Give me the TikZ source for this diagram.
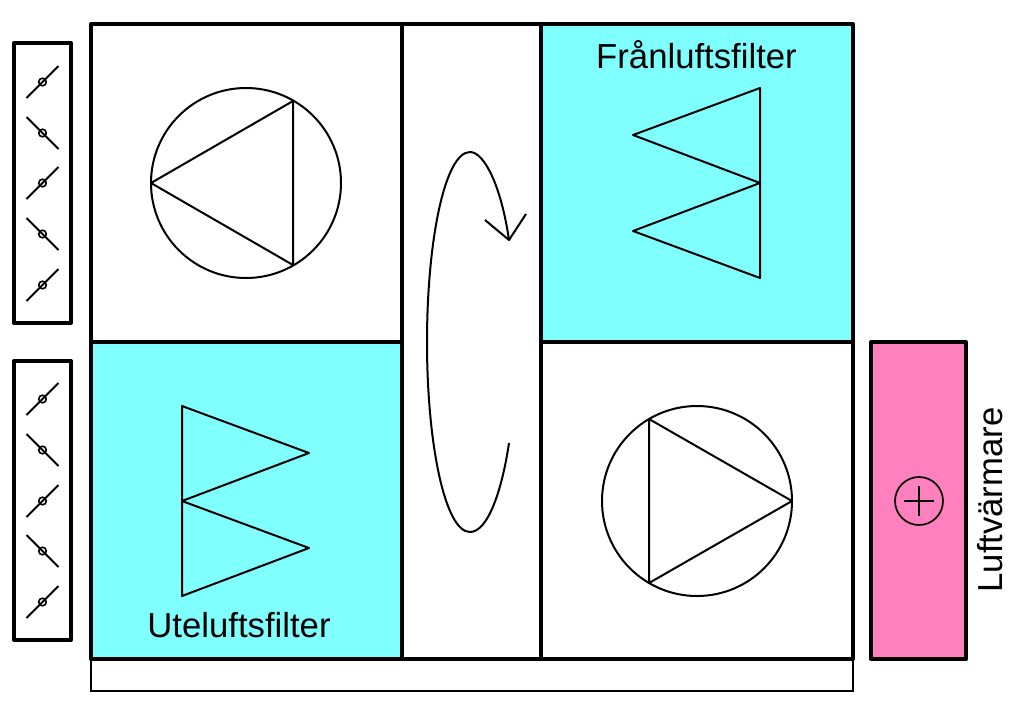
\documentclass[tikz,border=0pt]{standalone}
\usepackage{fontspec}
\setmainfont{Liberation Sans}
\definecolor{filtercyan}{RGB}{128,255,255}
\definecolor{heaterpink}{RGB}{255,128,190}
\tikzset{
  heavy/.style={draw=black,line width=4pt,line join=round},
  thin line/.style={draw=black,line width=2pt,line join=round},
  label text/.style={font=\fontsize{34.7}{35}\selectfont,inner sep=0pt,text=black}
}
\newcommand{\damperup}[2]{%
  \draw[thin line] (#1-16,#2+16) -- (#1+16,#2-16);
  \draw[draw=black,line width=1.6pt] (#1,#2) circle (3.8);}
\newcommand{\damperdown}[2]{%
  \draw[thin line] (#1-16,#2-16) -- (#1+16,#2+16);
  \draw[draw=black,line width=1.6pt] (#1,#2) circle (3.8);}
\begin{document}
\begin{tikzpicture}[x=1pt,y=-1pt]
\useasboundingbox[fill=white] (0,0) rectangle (1024,713);
% base
\draw[draw=black,line width=1.5pt] (91,659) rectangle (853,691);
% fills
\fill[filtercyan] (541,24) rectangle (853,342);
\fill[filtercyan] (91,342) rectangle (402,659);
\fill[heaterpink] (871,342) rectangle (966,659);
% main frame
\draw[heavy] (91,24) rectangle (853,659);
\draw[heavy] (402,24) -- (402,659);
\draw[heavy] (541,24) -- (541,659);
\draw[heavy] (91,342) -- (402,342);
\draw[heavy] (541,342) -- (853,342);
% heater
\draw[heavy] (871,342) rectangle (966,659);
\draw[draw=black,line width=1.7pt] (919,501) circle (24);
\draw[draw=black,line width=1.7pt] (904,501) -- (934,501);
\draw[draw=black,line width=1.7pt] (919,486) -- (919,516);
% damper boxes
\draw[heavy] (14,43) rectangle (71,323);
\draw[heavy] (14,361) rectangle (71,640);
\damperup{42.5}{82}
\damperdown{42.5}{133}
\damperup{42.5}{183}
\damperdown{42.5}{234}
\damperup{42.5}{285}
\damperup{42.5}{399}
\damperdown{42.5}{450}
\damperup{42.5}{501}
\damperdown{42.5}{551}
\damperup{42.5}{602}
% fans
\draw[thin line] (246,183) circle (95);
\draw[thin line] (151,183) -- (293,101) -- (293,265) -- cycle;
\draw[thin line] (697,501) circle (95);
\draw[thin line] (792,501) -- (649,419) -- (649,583) -- cycle;
% filters
\draw[thin line] (760,183) -- (760,88) -- (633,135) -- (760,183) -- (633,231) -- (760,278) -- cycle;
\draw[thin line] (182,501) -- (182,406) -- (309,453) -- (182,501) -- (309,548) -- (182,596) -- cycle;
% wheel rotation
\draw[thin line] (509,240) .. controls (501,185) and (484,152) .. (470,152)
  .. controls (445,152) and (427,240) .. (427,342)
  .. controls (427,444) and (445,532) .. (470,532)
  .. controls (488,532) and (502,490) .. (509,443);
\draw[thin line] (485,220) -- (509,240) -- (526,214);
% labels
\node[label text] (franluft) at (696.5,55) {Frånluftsfilter};
\node[label text] (uteluft) at (239,625) {Uteluftsfilter};
\node[label text,rotate=90] (luftvarmare) at (990,500) {Luftvärmare};
\end{tikzpicture}
\end{document}
